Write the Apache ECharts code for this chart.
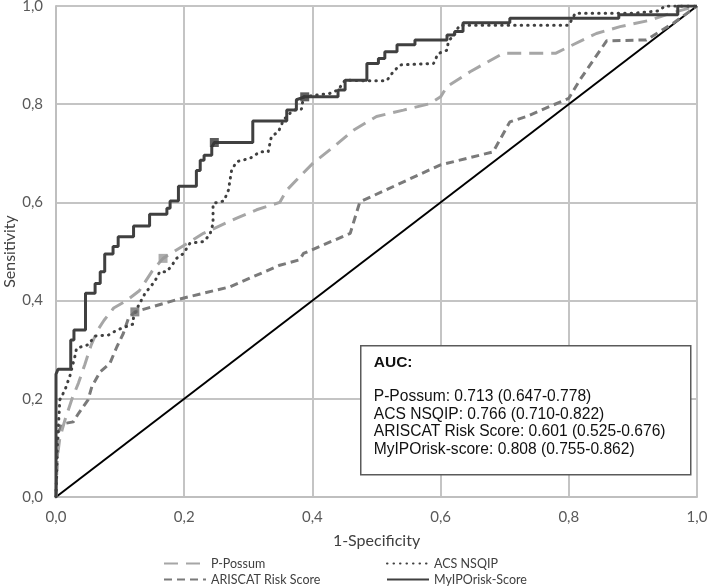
<!DOCTYPE html>
<html lang="en">
<head>
  <meta charset="utf-8">
  <title>ROC curves</title>
  <script src="https://cdn.jsdelivr.net/npm/echarts@6/dist/echarts.min.js"></script>
  <style>
      html, body, #chart {
          width: 100%; height: 100%; margin: 0; padding: 0; overflow: hidden; background: #fff;
      }
  </style>
</head>
<body>
  <div id="chart"></div>
  <script>
    // [1-specificity, sensitivity]
    var pPossum = [[0,0],[0.002,0.08],[0.006,0.12],[0.014,0.157],[0.025,0.2],[0.035,0.232],[0.045,0.27],
        [0.055,0.31],[0.065,0.34],[0.075,0.36],[0.09,0.385],[0.11,0.4],[0.13,0.42],[0.15,0.46],[0.167,0.486],
        [0.23,0.537],[0.282,0.568],[0.313,0.585],[0.349,0.6],[0.36,0.625],[0.38,0.652],[0.401,0.68],
        [0.433,0.713],[0.464,0.747],[0.5,0.775],[0.542,0.788],[0.583,0.801],[0.6,0.815],[0.61,0.836],
        [0.646,0.866],[0.698,0.904],[0.78,0.904],[0.8,0.917],[0.843,0.944],[0.88,0.958],[0.927,0.971],
        [0.958,0.985],[1,1]];
    var acsNsqip = [[0,0],[0.002,0.1],[0.006,0.198],[0.014,0.218],[0.022,0.248],[0.03,0.289],[0.032,0.303],
        [0.05,0.31],[0.061,0.328],[0.082,0.33],[0.095,0.34],[0.12,0.352],[0.121,0.367],[0.128,0.388],
        [0.139,0.415],[0.154,0.439],[0.162,0.459],[0.173,0.459],[0.183,0.476],[0.188,0.486],[0.199,0.496],
        [0.209,0.517],[0.23,0.52],[0.24,0.534],[0.245,0.557],[0.245,0.598],[0.262,0.603],[0.269,0.625],
        [0.274,0.666],[0.282,0.683],[0.303,0.69],[0.318,0.703],[0.331,0.703],[0.336,0.734],[0.347,0.744],
        [0.355,0.768],[0.37,0.788],[0.383,0.79],[0.386,0.815],[0.427,0.822],[0.44,0.829],[0.451,0.849],
        [0.472,0.848],[0.516,0.848],[0.526,0.866],[0.537,0.88],[0.589,0.883],[0.596,0.903],[0.61,0.91],
        [0.612,0.927],[0.62,0.941],[0.63,0.961],[0.8,0.961],[0.81,0.985],[0.9,0.985],[0.94,0.99],
        [0.95,1],[1,1]];
    var ariscat = [[0,0],[0.003,0.13],[0.009,0.147],[0.014,0.15],[0.027,0.153],[0.035,0.17],[0.05,0.198],
        [0.056,0.225],[0.069,0.255],[0.084,0.272],[0.095,0.306],[0.105,0.333],[0.113,0.364],[0.123,0.377],
        [0.186,0.401],[0.271,0.428],[0.349,0.472],[0.38,0.483],[0.386,0.496],[0.459,0.537],[0.474,0.601],
        [0.599,0.676],[0.682,0.703],[0.708,0.764],[0.734,0.775],[0.8,0.812],[0.817,0.849],[0.859,0.929],
        [0.921,0.931],[0.963,0.965],[1,1]];
    var myipo = [[0,0],[0,0.25],[0.003,0.25],[0.003,0.26],[0.023,0.26],[0.023,0.32],[0.028,0.32],[0.028,0.34],
        [0.046,0.34],[0.046,0.415],[0.061,0.415],[0.061,0.435],[0.069,0.435],[0.069,0.459],[0.076,0.459],
        [0.076,0.495],[0.089,0.495],[0.089,0.51],[0.097,0.51],[0.097,0.53],[0.121,0.53],[0.121,0.552],
        [0.146,0.552],[0.146,0.576],[0.173,0.576],[0.173,0.588],[0.178,0.588],[0.178,0.603],[0.191,0.603],
        [0.191,0.633],[0.219,0.633],[0.219,0.665],[0.225,0.665],[0.225,0.686],[0.231,0.686],[0.231,0.696],
        [0.243,0.696],[0.243,0.713],[0.247,0.722],[0.307,0.722],[0.307,0.766],[0.36,0.766],[0.36,0.788],
        [0.375,0.788],[0.375,0.809],[0.388,0.815],[0.44,0.815],[0.44,0.829],[0.451,0.829],[0.451,0.849],
        [0.485,0.849],[0.485,0.883],[0.503,0.883],[0.503,0.893],[0.513,0.893],[0.513,0.907],[0.532,0.907],
        [0.532,0.921],[0.56,0.921],[0.56,0.931],[0.61,0.931],[0.61,0.941],[0.622,0.941],[0.622,0.948],
        [0.635,0.948],[0.635,0.966],[0.708,0.966],[0.708,0.975],[0.878,0.975],[0.878,0.982],[0.97,0.982],
        [0.97,1],[1,1]];
    var reference = [[0,0],[1,1]];

    // cut-off points marked with squares
    var pPossumCut = [[0.167,0.486]];
    var ariscatCut = [[0.123,0.377]];
    var myipoCut = [[0.247,0.722],[0.388,0.815]];

    var aucTitle = 'AUC:';
    var aucLines = [
        'P-Possum: 0.713 (0.647-0.778)',
        'ACS NSQIP: 0.766 (0.710-0.822)',
        'ARISCAT Risk Score: 0.601 (0.525-0.676)',
        'MyIPOrisk-score: 0.808 (0.755-0.862)'
    ];

    var chart = echarts.init(document.getElementById('chart'));

    var labelFmt = function (v) { return v.toFixed(1).replace('.', ','); };
    var axisCommon = {
        type: 'value', min: 0, max: 1, interval: 0.2,
        nameLocation: 'middle', nameMoveOverlap: false,
        nameTextStyle: { fontFamily: 'Lato', fontSize: 16, color: '#404040' },
        axisLine: { show: true, lineStyle: { color: '#bfbfbf', width: 2 } },
        axisTick: { show: false },
        axisLabel: { fontFamily: 'Lato', fontSize: 15, color: '#595959', margin: 13, formatter: labelFmt },
        splitLine: { show: true, lineStyle: { color: '#c4c4c4', width: 2 } }
    };

    var legendCommon = {
        orient: 'vertical', top: 557, padding: 0,
        itemWidth: 42, itemHeight: 12, itemGap: 3,
        itemStyle: { color: 'rgba(0,0,0,0)', borderWidth: 0, opacity: 0 },
        textStyle: { fontFamily: 'Lato', fontSize: 12.5, color: '#404040', lineHeight: 12 }
    };

    var aucChildren = [{
        type: 'rect', z: 100, shape: { x: 0, y: 0, width: 330, height: 129 },
        style: { fill: '#fff', stroke: '#5a5a5a', lineWidth: 1.5 }
    }, {
        type: 'text', z: 101, x: 13, y: 9,
        style: { text: aucTitle, font: 'bold 15.5px "Liberation Sans"', fill: '#111' }
    }];
    aucLines.forEach(function (t, i) {
        aucChildren.push({
            type: 'text', z: 101, x: 13, y: 43 + i * 17.5,
            style: { text: t, font: '15.6px "Liberation Sans"', fill: '#111' }
        });
    });

    var option = {
        animation: false,
        grid: { left: 56, right: 12, top: 6, bottom: 90, outerBoundsMode: 'none' },
        xAxis: Object.assign({}, axisCommon, { name: '1-Specificity', nameGap: 36 }),
        yAxis: Object.assign({}, axisCommon, { name: 'Sensitivity', nameGap: 38 }),
        legend: [
            Object.assign({ data: ['P-Possum', 'ARISCAT Risk Score'], left: 163 }, legendCommon),
            Object.assign({ data: ['ACS NSQIP', 'MyIPOrisk-Score'], left: 386 }, legendCommon)
        ],
        graphic: [{ type: 'group', left: 360, top: 345, z: 100, children: aucChildren }],
        series: [{
            name: 'reference', type: 'line', data: reference, symbol: 'none', silent: true,
            lineStyle: { color: '#000', width: 2 }
        }, {
            name: 'ARISCAT Risk Score', type: 'line', data: ariscat, symbol: 'none',
            lineStyle: { color: '#7a7a7a', width: 3, type: [8, 5] }, itemStyle: { color: '#7a7a7a' }
        }, {
            name: 'P-Possum', type: 'line', data: pPossum, symbol: 'none',
            lineStyle: { color: '#a6a6a6', width: 3, type: [14, 8] }, itemStyle: { color: '#a6a6a6' }
        }, {
            name: 'ACS NSQIP', type: 'line', data: acsNsqip, symbol: 'none',
            lineStyle: { color: '#404040', width: 3, type: [0.5, 6], cap: 'round' }, itemStyle: { color: '#404040' }
        }, {
            name: 'MyIPOrisk-Score', type: 'line', data: myipo, symbol: 'none',
            lineStyle: { color: '#404040', width: 3 }, itemStyle: { color: '#404040' }
        }, {
            type: 'scatter', data: pPossumCut, symbol: 'rect', symbolSize: 9,
            itemStyle: { color: '#999' }, z: 3
        }, {
            type: 'scatter', data: ariscatCut, symbol: 'rect', symbolSize: 9,
            itemStyle: { color: '#6e6e6e' }, z: 3
        }, {
            type: 'scatter', data: myipoCut, symbol: 'rect', symbolSize: 9,
            itemStyle: { color: '#333' }, z: 3
        }]
    };
    chart.setOption(option);
  </script>
</body>
</html>
